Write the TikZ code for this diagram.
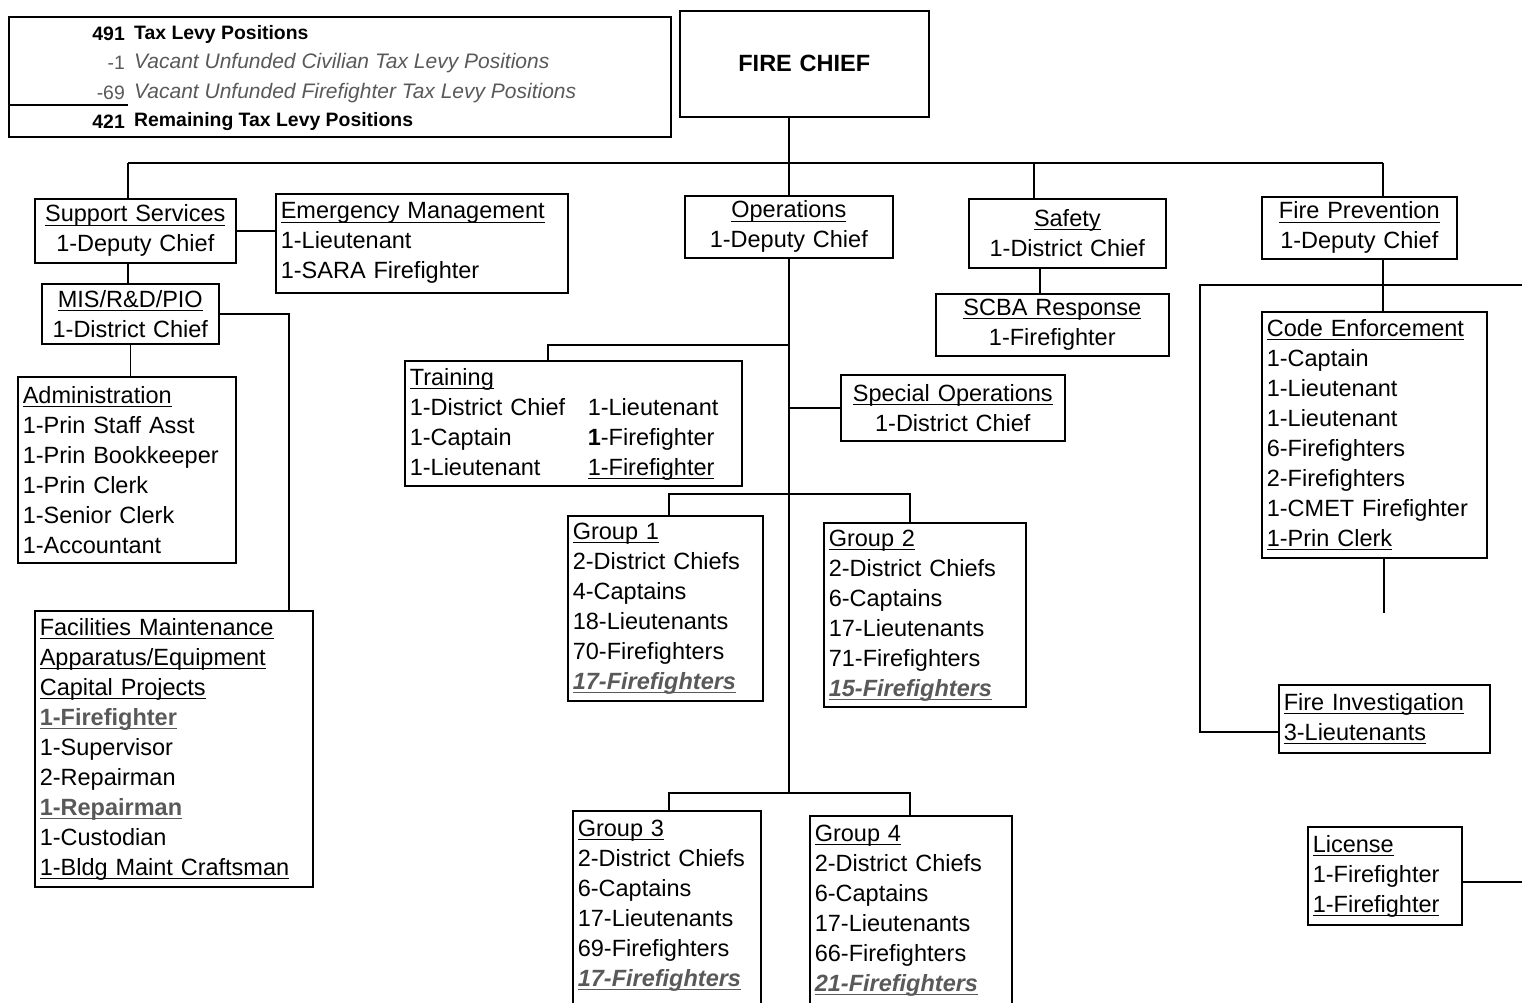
\documentclass[tikz,border=0pt]{standalone}
\usepackage{fontspec}
\setmainfont{Liberation Sans}
\usepackage{tikz}
\usetikzlibrary{positioning}
\definecolor{vacgray}{gray}{0.35}
\newcommand{\chartfont}{\fontsize{23.5}{30}\selectfont}
\newcommand{\sumfont}{\fontsize{19.4}{24}\selectfont}
\newcommand{\sumitfont}{\fontsize{21}{24}\selectfont}
\newcommand{\under}[1]{\underline{\raisebox{0pt}[\height][1.5pt]{#1}}}
\newcommand{\vac}[1]{\textcolor{vacgray}{\under{\textbf{\textit{#1}}}}}
\newcommand{\graybold}[1]{\textcolor{vacgray}{\under{\textbf{#1}}}}
\tikzset{
  box/.style={draw, line width=1.6pt, anchor=north west, inner xsep=5pt, inner ysep=0pt, font=\chartfont},
  lbox/.style={box, align=left},
  cbox/.style={box, align=center},
  link/.style={line width=1.6pt},
  sumnum/.style={anchor=east, inner sep=0pt, font=\sumfont},
  sumtxt/.style={anchor=west, inner sep=0pt, font=\sumfont},
}
\begin{document}
\begin{tikzpicture}[x=1pt, y=-1pt]
    \useasboundingbox (0,0) rectangle (1522,1003);
    \clip (0,0) rectangle (1522,1003);

    \node[draw, line width=1.6pt, anchor=north west, minimum width=662pt, minimum height=120pt, inner sep=0pt] (summary) at (8,16) {};
    \node[sumnum] (n1) at (125,34) {\textbf{491}};
    \node[sumtxt] (t1) at (134,34) {\textbf{Tax Levy Positions}};
    \node[sumnum] (n2) at (125,63) {\textcolor{vacgray}{-1}};
    \node[sumtxt] (t2) at (134,63) {\sumitfont\textcolor{vacgray}{\textit{Vacant Unfunded Civilian Tax Levy Positions}}};
    \node[sumnum] (n3) at (125,93) {\textcolor{vacgray}{-69}};
    \node[sumtxt] (t3) at (134,93) {\sumitfont\textcolor{vacgray}{\textit{Vacant Unfunded Firefighter Tax Levy Positions}}};
    \node[sumnum] (n4) at (125,122) {\textbf{421}};
    \node[sumtxt] (t4) at (134,122) {\textbf{Remaining Tax Levy Positions}};
    \coordinate (rule) at (128,105);
    \draw[link] (rule -| summary.west) -- (rule);

    \node[cbox, text width=239pt, minimum height=106pt] (chief) at (679,10) {\textbf{FIRE CHIEF}};

    \node[cbox, text width=191pt, minimum height=64pt] (support) at (34,198) {\under{Support Services}\\1-Deputy Chief};
    \node[lbox, text width=282pt, minimum height=99pt] (emerg) at (275,193) {\under{Emergency Management}\\1-Lieutenant\\1-SARA Firefighter};
    \node[cbox, text width=167pt, minimum height=60pt] (mis) at (41,283) {\under{MIS/R\&D/PIO}\\1-District Chief};
    \node[lbox, text width=208pt, minimum height=186pt] (admin) at (17,376) {\under{Administration}\\1-Prin Staff Asst\\1-Prin Bookkeeper\\1-Prin Clerk\\1-Senior Clerk\\1-Accountant};
    \node[lbox, text width=268pt, minimum height=276pt] (facil) at (34,610) {\under{Facilities Maintenance}\\\under{Apparatus/Equipment}\\\under{Capital Projects}\\\graybold{1-Firefighter}\\1-Supervisor\\2-Repairman\\\graybold{1-Repairman}\\1-Custodian\\\under{1-Bldg Maint Craftsman}};

    \node[cbox, text width=198pt, minimum height=62pt] (ops) at (684,195) {\under{Operations}\\1-Deputy Chief};
    \node[lbox, text width=327pt, minimum height=125pt] (training) at (404,360) {\under{Training}\\
        \makebox[178pt][l]{1-District Chief}1-Lieutenant\\
        \makebox[178pt][l]{1-Captain}\textbf{1}-Firefighter\\
        \makebox[178pt][l]{1-Lieutenant}\under{1-Firefighter}};
    \node[cbox, text width=214pt, minimum height=66pt] (specops) at (840,374) {\under{Special Operations}\\1-District Chief};
    \node[lbox, text width=185pt, minimum height=185pt] (g1) at (567,515) {\under{Group 1}\\2-District Chiefs\\4-Captains\\18-Lieutenants\\70-Firefighters\\\vac{17-Firefighters}};
    \node[lbox, text width=192pt, minimum height=184pt] (g2) at (823,522) {\under{Group 2}\\2-District Chiefs\\6-Captains\\17-Lieutenants\\71-Firefighters\\\vac{15-Firefighters}};
    \node[lbox, text width=178pt, minimum height=215pt] (g3) at (572,810) {\under{Group 3}\\2-District Chiefs\\6-Captains\\17-Lieutenants\\69-Firefighters\\\vac{17-Firefighters}\\\mbox{}};
    \node[lbox, text width=192pt, minimum height=215pt] (g4) at (809,815) {\under{Group 4}\\2-District Chiefs\\6-Captains\\17-Lieutenants\\66-Firefighters\\\vac{21-Firefighters}\\\mbox{}};

    \node[cbox, text width=187pt, minimum height=69pt] (safety) at (968,198) {\under{Safety}\\1-District Chief};
    \node[cbox, text width=223pt, minimum height=62pt] (scba) at (935,293) {\under{SCBA Response}\\1-Firefighter};

    \node[cbox, text width=185pt, minimum height=62pt] (firepre) at (1261,196) {\under{Fire Prevention}\\1-Deputy Chief};
    \node[lbox, text width=215pt, minimum height=246pt] (code) at (1261,311) {\under{Code Enforcement}\\1-Captain\\1-Lieutenant\\1-Lieutenant\\6-Firefighters\\2-Firefighters\\1-CMET Firefighter\\\under{1-Prin Clerk}};
    \node[lbox, text width=201pt, minimum height=68pt] (fireinv) at (1278,684) {\under{Fire Investigation}\\\under{3-Lieutenants}};
    \node[lbox, text width=144pt, minimum height=98pt] (license) at (1307,826) {\under{License}\\1-Firefighter\\\under{1-Firefighter}};

    \coordinate (jss) at (128,163);
    \coordinate (jc) at (789,163);
    \coordinate (jsf) at (1034,163);
    \coordinate (jfp) at (1383,163);
    \draw[link] (chief.south -| jc) -- (jc);
    \draw[link] (jss) -- (jfp);
    \draw[link] (jss) -- (jss |- support.north);
    \draw[link] (jc) -- (jc |- ops.north);
    \draw[link] (jsf) -- (jsf |- safety.north);
    \draw[link] (jfp) -- (jfp |- firepre.north);

    \draw[link] (support.east) -- (support.east -| emerg.west);
    \draw[link] (jss |- support.south) -- (jss |- mis.north);
    \draw[link] (mis.south) -- (mis.south |- admin.north);
    \coordinate (jfac) at (289,610);
    \draw[link] (mis.east) -| (jfac);

    \coordinate (jtr) at (789,345);
    \coordinate (ttr) at (548,345);
    \coordinate (jg34) at (789,793);
    \draw[link] (jc |- ops.south) -- (jg34);
    \draw[link] (jtr) -- (ttr) -- (ttr |- training.north);
    \draw[link] (jc |- specops.west) -- (specops.west);
    \coordinate (g1top) at (669,494);
    \coordinate (g2top) at (910,494);
    \draw[link] (g1top |- g1.north) -- (g1top) -- (g2top) -- (g2top |- g2.north);
    \coordinate (g3top) at (669,793);
    \coordinate (g4top) at (910,793);
    \draw[link] (g3top |- g3.north) -- (g3top) -- (g4top) -- (g4top |- g4.north);

    \coordinate (jsc) at (1040,280);
    \draw[link] (jsc |- safety.south) -- (jsc |- scba.north);

    \draw[link] (jfp |- firepre.south) -- (jfp |- code.north);
    \coordinate (jfi) at (1200,285);
    \coordinate (jfi2) at (1200,732);
    \coordinate (edge1) at (1522,285);
    \draw[link] (edge1) -- (jfi) -- (jfi2) -- (jfi2 -| fireinv.west);
    \coordinate (cend) at (1384,613);
    \draw[link] (cend |- code.south) -- (cend);
    \coordinate (edge2) at (1522,882);
    \draw[link] (edge2 -| license.east) -- (edge2);
\end{tikzpicture}
\end{document}
